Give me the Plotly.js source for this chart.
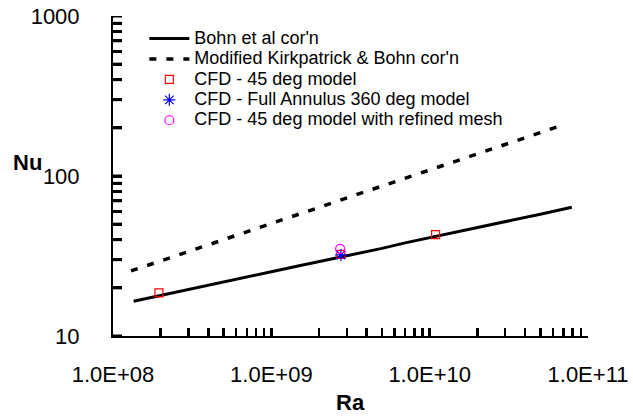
<!DOCTYPE html>
<html>
<head>
<meta charset="utf-8">
<script src="https://cdn.plot.ly/plotly-3.0.1.min.js"></script>
<style>html,body{margin:0;padding:0;background:#fff;}#chart{width:633px;height:419px;}</style>
</head>
<body>
<div id="chart"></div>
<script>
// Bohn et al correlation (solid line)
var bohnRa = [1.35e8, 2e8, 3e8, 5e8, 7e8, 1e9, 1.5e9, 2e9, 3e9, 4e9, 5e9, 7e9, 1e10, 1.5e10, 2e10, 3e10, 5e10, 7.9e10];
var bohnNu = [16.5, 17.9, 19.5, 21.8, 23.4, 25.2, 27.5, 29.2, 31.6, 33.6, 35.3, 38.2, 41.1, 44.8, 47.5, 51.6, 57.7, 63.7];
// Modified Kirkpatrick & Bohn correlation (dashed line)
var kbRa = [1.3e8, 2e8, 5e8, 1e9, 2e9, 5e9, 1e10, 2e10, 4e10, 7e10];
var kbNu = [25.5, 29.5, 40.0, 50.5, 63.6, 86.5, 109, 137, 173, 209];
// CFD results
var cfd45Ra = [1.95e8, 2.75e9, 1.09e10];
var cfd45Nu = [18.6, 32.4, 43.0];
var cfd360Ra = [2.75e9];
var cfd360Nu = [32.1];
var cfdRefRa = [2.72e9];
var cfdRefNu = [35.0];
var names = ["Bohn et al cor'n", "Modified Kirkpatrick & Bohn cor'n", "CFD - 45 deg model", "CFD - Full Annulus 360 deg model", "CFD - 45 deg model with refined mesh"];
// tick positions (labelled decades plus unlabelled intermediate ticks)
var xTickVals = [1e8,2e8,3e8,4e8,5e8,6e8,7e8,8e8,9e8,1e9,2e9,3e9,4e9,5e9,6e9,7e9,8e9,9e9,1e10,2e10,3e10,4e10,5e10,6e10,7e10,8e10,9e10,1e11];
var xTickText = ["1.0E+08","","","","","","","","","1.0E+09","","","","","","","","","1.0E+10","","","","","","","","","1.0E+11"];
var yTickVals = [10,20,30,40,50,60,70,80,90,100,200,300,400,500,600,700,800,900,1000];
var yTickText = ["10","","","","","","","","","100","","","","","","","","","1000"];

function nm(s){ return '<span style="font-size:18px">' + s + '</span>'; }

var traces = [
  {x: bohnRa, y: bohnNu, mode: 'lines', name: nm(names[0]), line: {color: '#000', width: 3}},
  {x: kbRa, y: kbNu, mode: 'lines', name: nm(names[1]), line: {color: '#000', width: 3.5, dash: '7px,10px'}},
  {x: cfd45Ra, y: cfd45Nu, mode: 'markers', name: nm(names[2]), marker: {symbol: 'square-open', color: '#FF0000', size: 8, line: {width: 1.2}}},
  {x: cfd360Ra, y: cfd360Nu, mode: 'markers', name: nm(names[3]), marker: {symbol: 'asterisk-open', color: '#0000FF', size: 10, line: {width: 1.2, color: '#0000FF'}}},
  {x: cfdRefRa, y: cfdRefNu, mode: 'markers', name: nm(names[4]), marker: {symbol: 'circle-open', color: '#FF00FF', size: 9, line: {width: 1.2}}}
];

// y-axis tick marks reinforced as shapes placed through the y axis scale
var shapes = yTickVals.map(function(v){
  return {type: 'line', layer: 'above', xref: 'paper', yref: 'y', xsizemode: 'pixel', xanchor: 0,
          x0: 0, x1: 9, y0: v, y1: v, line: {color: '#000', width: 3}};
});

var layout = {
  width: 633, height: 419,
  margin: {l: 113, r: 45, t: 16, b: 83},
  paper_bgcolor: '#fff', plot_bgcolor: '#fff',
  font: {family: '"Liberation Sans", Arial, sans-serif', color: '#000'},
  showlegend: true,
  legend: {x: 0.066, y: 0.977, xanchor: 'left', yanchor: 'top', bgcolor: 'rgba(0,0,0,0)', borderwidth: 0,
           font: {size: 13.4, family: '"Liberation Sans", Arial, sans-serif'}, itemwidth: 40, tracegroupgap: 0},
  xaxis: {type: 'log', range: [8, 11], showgrid: false, zeroline: false,
          showline: true, linecolor: '#000', linewidth: 2,
          ticks: 'inside', ticklen: 8, tickwidth: 2.5, tickcolor: '#000',
          tickmode: 'array', tickvals: xTickVals, ticktext: xTickText, tickfont: {size: 22},
          ticklabelstandoff: 18},
  yaxis: {type: 'log', range: [1, 3], showgrid: false, zeroline: false,
          showline: true, linecolor: '#000', linewidth: 2,
          ticks: 'inside', ticklen: 9, tickwidth: 3, tickcolor: '#000',
          tickmode: 'array', tickvals: yTickVals, ticktext: yTickText, tickfont: {size: 22},
          ticklabelstandoff: 27},
  shapes: shapes,
  annotations: [
    {text: '<b>Nu</b>', xref: 'paper', yref: 'paper', x: -0.179, y: 0.541, xanchor: 'center', yanchor: 'middle', showarrow: false, font: {size: 22}},
    {text: '<b>Ra</b>', xref: 'paper', yref: 'paper', x: 0.5, y: -0.209, xanchor: 'center', yanchor: 'middle', showarrow: false, font: {size: 22}}
  ]
};

Plotly.newPlot('chart', traces, layout, {displayModeBar: false, staticPlot: true});
</script>
</body>
</html>
